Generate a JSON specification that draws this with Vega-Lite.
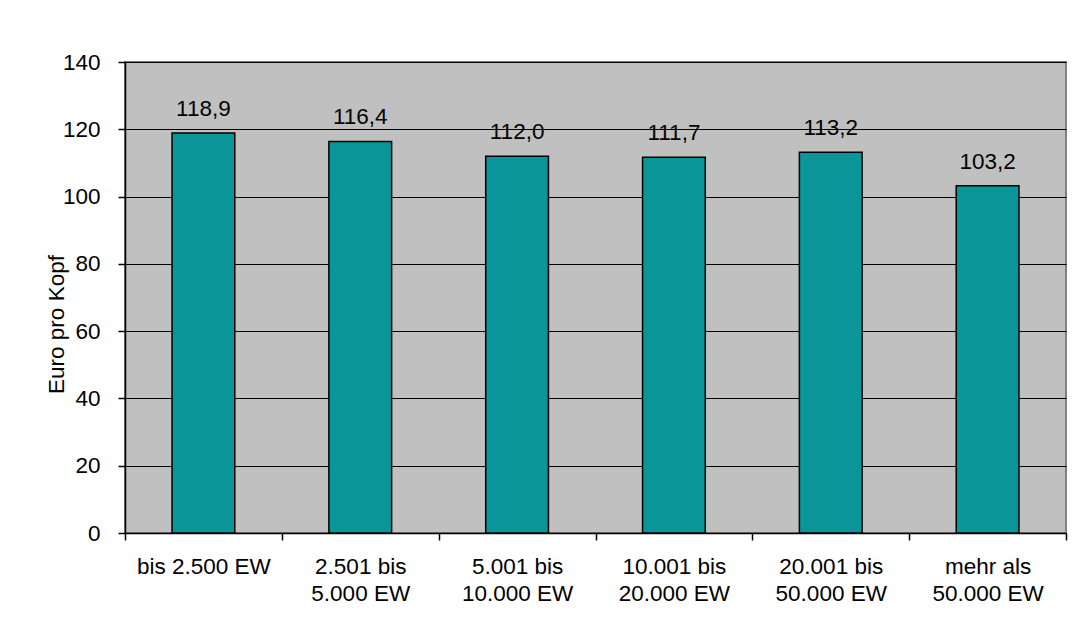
{
  "$schema": "https://vega.github.io/schema/vega-lite/v6.json",
  "autosize": "none",
  "width": 941,
  "height": 471,
  "padding": {"left": 125, "top": 62, "right": 19, "bottom": 106},
  "background": "white",
  "config": {
    "locale": {"number": {"decimal": ",", "thousands": ".", "grouping": [3], "currency": ["", " €"]}},
    "font": "Liberation Sans",
    "view": {"fill": "#C0C0C0", "stroke": "#808080", "strokeWidth": 2},
    "axis": {"labelFont": "Liberation Sans", "titleFont": "Liberation Sans", "labelColor": "black", "titleColor": "black", "domainColor": "black", "tickColor": "black", "domainWidth": 1.5, "tickWidth": 1.5}
  },
  "data": {
    "values": [
      {"kategorie": "bis 2.500 EW", "wert": 118.9},
      {"kategorie": "2.501 bis 5.000 EW", "wert": 116.4},
      {"kategorie": "5.001 bis 10.000 EW", "wert": 112.0},
      {"kategorie": "10.001 bis 20.000 EW", "wert": 111.7},
      {"kategorie": "20.001 bis 50.000 EW", "wert": 113.2},
      {"kategorie": "mehr als 50.000 EW", "wert": 103.2}
    ]
  },
  "encoding": {
    "x": {
      "field": "kategorie",
      "type": "nominal",
      "sort": null,
      "scale": {"paddingInner": 0, "paddingOuter": 0},
      "axis": {
        "title": null,
        "labelAngle": 0,
        "labelFontSize": 22.5,
        "labelPadding": 15,
        "labelLineHeight": 27,
        "labelBaseline": "top",
        "tickBand": "extent",
        "tickSize": 7,
        "labelExpr": "length(split(datum.value, ' ')) > 3 ? [split(datum.value, ' ')[0] + ' ' + split(datum.value, ' ')[1], split(datum.value, ' ')[2] + ' ' + split(datum.value, ' ')[3]] : datum.value"
      }
    },
    "y": {
      "field": "wert",
      "type": "quantitative",
      "scale": {"domain": [0, 140], "nice": false},
      "axis": {
        "title": "Euro pro Kopf",
        "titleFontSize": 22.5,
        "titleFontWeight": "normal",
        "titleX": -62,
        "titleY": 262,
        "titleAngle": -90,
        "titleAlign": "center",
        "titleBaseline": "alphabetic",
        "values": [0, 20, 40, 60, 80, 100, 120, 140],
        "labelFontSize": 22.5,
        "labelPadding": 18,
        "tickSize": 7,
        "grid": true,
        "gridColor": "black",
        "gridWidth": 1.2,
        "gridOpacity": 1
      }
    }
  },
  "layer": [
    {
      "mark": {"type": "bar", "width": {"band": 0.4}, "fill": "#0A9599", "stroke": "black", "strokeWidth": 1.5}
    },
    {
      "mark": {"type": "text", "fontSize": 22.5, "color": "black", "baseline": "alphabetic", "dy": -17},
      "encoding": {"text": {"field": "wert", "type": "quantitative", "format": ".1f"}}
    }
  ]
}
